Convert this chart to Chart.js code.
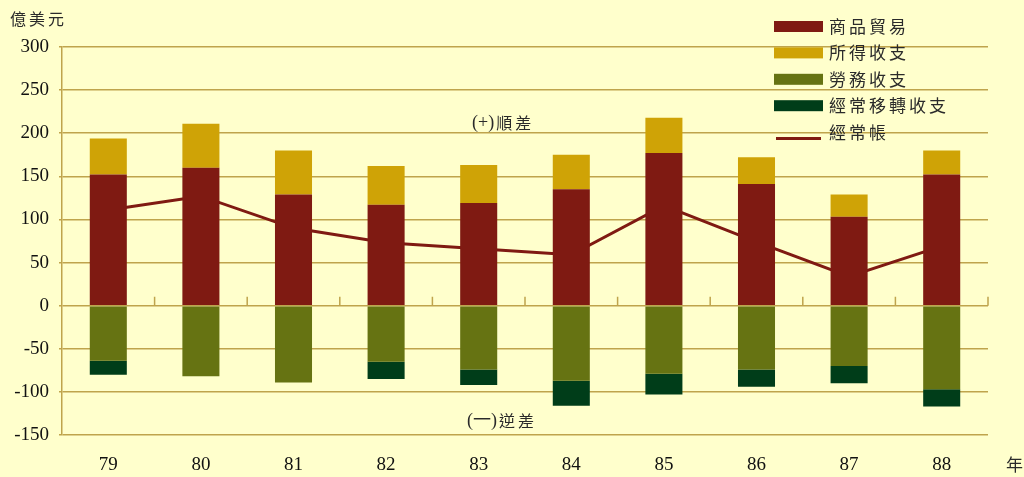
<!DOCTYPE html>
<html><head><meta charset="utf-8">
<script src="https://cdn.jsdelivr.net/npm/chart.js@4.4.1/dist/chart.umd.min.js"></script>
<style>html,body{margin:0;padding:0;background:#FFFFCC;}canvas{display:block;}</style>
</head><body>
<canvas id="c" width="1024" height="477"></canvas>
<script>
const categories = ['79','80','81','82','83','84','85','86','87','88'];
const goods = [152,160,129,117,119,135,177,141,103,152];
const income = [42,51,51,45,44,40,41,31,26,28];
const services = [-64,-82,-89,-65,-74,-87,-79,-74,-70,-97];
const transfers = [-16,0,0,-20,-18,-29,-24,-20,-20,-20];
const currentAccount = [111,127,90,73,66,59,116,74,34,69];
const yTicks = [-150,-100,-50,0,50,100,150,200,250,300];
const seriesNames = ['商品貿易','所得收支','勞務收支','經常移轉收支','經常帳'];
const unitLabel = '億美元';
const surplusLabel = ['(+)', '順差'];
const deficitLabel = ['(一)', '逆差'];
const yearLabel = '年';

const COLORS = ['#7F1A12','#CFA306','#667312','#003D19'];
const GRID = '#BFA44C';
const SERIF = '"Liberation Serif", "Times New Roman", serif';
const CJK = '"Noto Sans CJK TC", "Noto Sans CJK SC", sans-serif';

const decor = {
  id: 'decor',
  beforeDraw(chart) {
    const ctx = chart.ctx;
    ctx.save();
    ctx.fillStyle = '#FFFFCC';
    ctx.fillRect(0, 0, chart.width, chart.height);
    ctx.restore();
  },
  afterDatasetsDraw(chart) {
    const ctx = chart.ctx, xs = chart.scales.x, ys = chart.scales.y;
    const y0 = ys.getPixelForValue(0);
    ctx.save();
    ctx.strokeStyle = GRID;
    ctx.lineWidth = 1.5;
    ctx.beginPath();
    for (let i = 0; i < categories.length - 1; i++) {
      const bx = (xs.getPixelForValue(i) + xs.getPixelForValue(i + 1)) / 2;
      ctx.moveTo(bx, y0); ctx.lineTo(bx, y0 - 9);
    }
    ctx.moveTo(chart.chartArea.right, y0); ctx.lineTo(chart.chartArea.right, y0 - 9);
    ctx.stroke();
    ctx.restore();
  },
  afterDraw(chart) {
    const ctx = chart.ctx;
    ctx.save();
    ctx.textBaseline = 'middle';
    ctx.textAlign = 'left';
    ctx.fillStyle = '#2a2a2a';
    // unit title
    ctx.font = '16px ' + CJK;
    ctx.letterSpacing = '3px';
    ctx.fillText(unitLabel, 10, 19);
    // legend
    const ds = chart.data.datasets;
    const order = [1, 2, 3, 4, 0];
    const pitch = 26.4;
    order.forEach((di, i) => {
      const d = ds[di];
      const y = 26.5 + i * pitch;
      if (d.type === 'line') {
        ctx.strokeStyle = d.borderColor;
        ctx.lineWidth = 3;
        ctx.beginPath(); ctx.moveTo(776, y + 6.5); ctx.lineTo(821, y + 6.5); ctx.stroke();
      } else {
        ctx.fillStyle = d.backgroundColor;
        ctx.fillRect(774, y - 5.5, 49, 11);
      }
      ctx.fillStyle = '#2a2a2a';
      ctx.font = '17px ' + CJK;
      ctx.letterSpacing = '3px';
      ctx.fillText(d.label, 829, y);
    });
    // annotations
    const drawMixed = (parts, x, y) => {
      ctx.letterSpacing = '0px';
      ctx.font = '18px ' + SERIF + ', ' + CJK;
      ctx.fillText(parts[0], x, y);
      const w = ctx.measureText(parts[0]).width;
      ctx.letterSpacing = '3px';
      ctx.font = '16px ' + CJK;
      ctx.fillText(parts[1], x + w + 2, y);
    };
    drawMixed(surplusLabel, 472, 123);
    drawMixed(deficitLabel, 467, 421);
    ctx.letterSpacing = '0px';
    ctx.font = '17px ' + CJK;
    ctx.fillText(yearLabel, 1006, 465);
    ctx.restore();
  }
};

new Chart(document.getElementById('c'), {
  data: {
    labels: categories,
    datasets: [
      { type: 'line', label: seriesNames[4], data: currentAccount, borderColor: COLORS[0], borderWidth: 3,
        pointRadius: 0, fill: false, tension: 0, order: 10, stack: 'line' },
      { type: 'bar', label: seriesNames[0], data: goods, backgroundColor: COLORS[0], stack: 's', order: 1 },
      { type: 'bar', label: seriesNames[1], data: income, backgroundColor: COLORS[1], stack: 's', order: 1 },
      { type: 'bar', label: seriesNames[2], data: services, backgroundColor: COLORS[2], stack: 's', order: 1 },
      { type: 'bar', label: seriesNames[3], data: transfers, backgroundColor: COLORS[3], stack: 's', order: 1 }
    ]
  },
  options: {
    responsive: false,
    animation: false,
    devicePixelRatio: 1,
    layout: { padding: { left: 10, top: 47, right: 36, bottom: 0 } },
    datasets: { bar: { categoryPercentage: 1, barPercentage: 0.4, borderWidth: 0 } },
    plugins: { legend: { display: false }, tooltip: { enabled: false }, title: { display: false } },
    scales: {
      x: {
        stacked: true,
        grid: { display: false, drawTicks: false },
        border: { display: false },
        ticks: { color: '#111', font: { family: SERIF, size: 19 }, padding: 19, maxRotation: 0 },
        afterFit(s) { s.height = 42; }
      },
      y: {
        stacked: true,
        min: yTicks[0], max: yTicks[yTicks.length - 1],
        afterBuildTicks(s) { s.ticks = yTicks.map(v => ({ value: v })); },
        ticks: { color: '#111', font: { family: SERIF, size: 19 }, padding: 10 },
        grid: { color: GRID, lineWidth: 1.5, tickLength: 3 },
        border: { color: GRID, width: 1.5 },
        afterFit(s) { s.width = 52; }
      }
    }
  },
  plugins: [decor]
});
</script>
</body></html>
